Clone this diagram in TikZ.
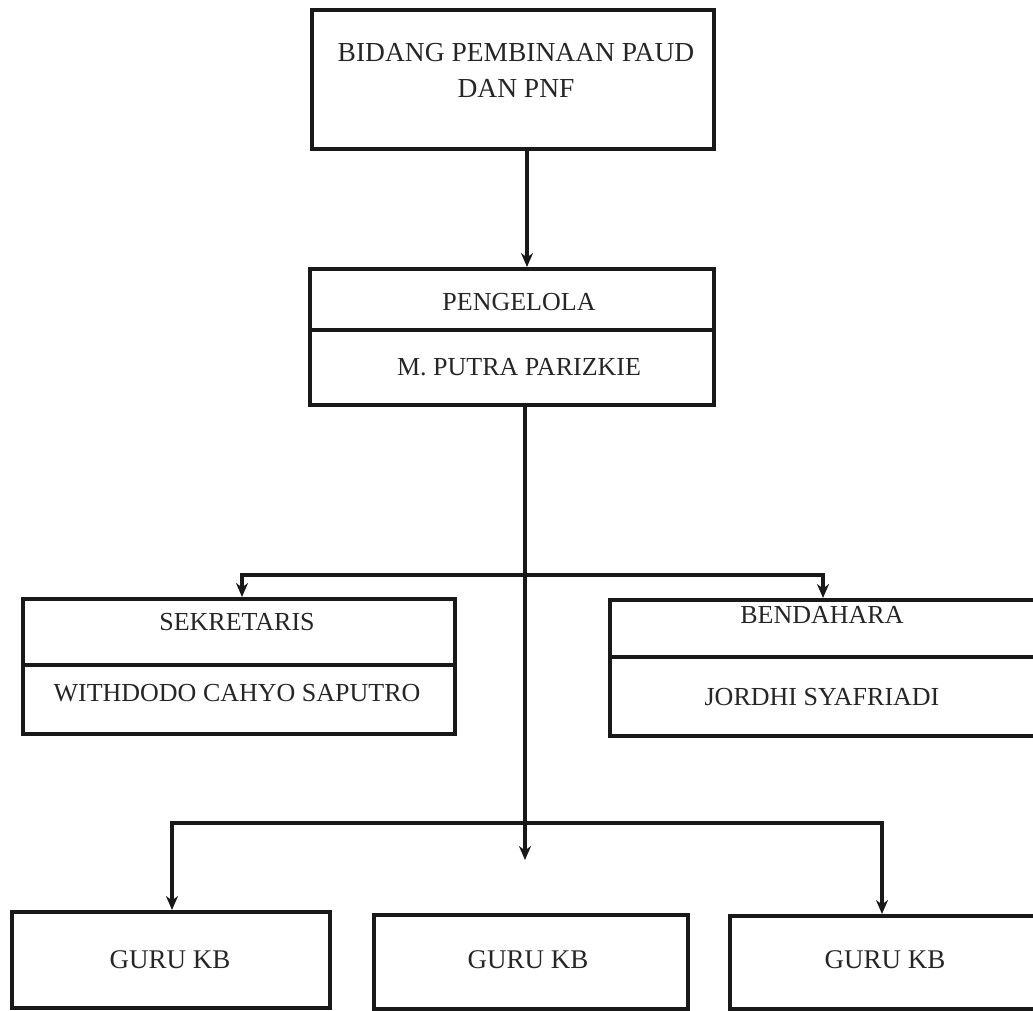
\documentclass[tikz,border=0pt]{standalone}
\usepackage{fontspec}
\setmainfont{Liberation Serif}
\usetikzlibrary{arrows.meta}
\begin{document}
\begin{tikzpicture}[x=1pt,y=-1pt,
  box/.style={draw=black!90,line width=3.8pt,rectangle,inner sep=0pt,anchor=north west},
  lbl/.style={font=\fontsize{26}{28}\selectfont,text=black!85,inner sep=0pt},
  con/.style={draw=black!90,line width=3.1pt},
  arr/.style={con,-{Stealth[length=14pt,width=12pt]}}]
\useasboundingbox (0,0) rectangle (1033,1010);
\clip (0,0) rectangle (1033,1010);
\fill[white] (0,0) rectangle (1033,1010);
% boxes
\node[box,minimum width=402pt,minimum height=139pt] (top) at (310,8) {};
\node[box,minimum width=404pt,minimum height=136pt] (pg) at (308,267) {};
\node[box,minimum width=432pt,minimum height=135pt] (sek) at (21,597) {};
\node[box,minimum width=440pt,minimum height=136pt] (ben) at (608,598) {};
\node[box,minimum width=318pt,minimum height=96pt] (g1) at (10,910) {};
\node[box,minimum width=314pt,minimum height=94pt] (g2) at (372,913) {};
\node[box,minimum width=320pt,minimum height=93pt] (g3) at (728,914) {};
% dividers
\draw[con] (pg.west |- 0,330) -- (pg.east |- 0,330);
\draw[con] (sek.west |- 0,665) -- (sek.east |- 0,665);
\draw[con] (ben.west |- 0,657) -- (ben.east |- 0,657);
% texts
\node[lbl,font=\fontsize{27.5}{30}\selectfont] (t1) at (516,53) {BIDANG PEMBINAAN PAUD};
\node[lbl,font=\fontsize{27.5}{30}\selectfont] (t2) at (516,88) {DAN PNF};
\node[lbl] (p1) at (519,302) {PENGELOLA};
\node[lbl] (p2) at (519,367) {M. PUTRA PARIZKIE};
\node[lbl] (s1) at (237,622) {SEKRETARIS};
\node[lbl] (s2) at (237,693) {WITHDODO CAHYO SAPUTRO};
\node[lbl] (b1) at (822,615) {BENDAHARA};
\node[lbl] (b2) at (822,697) {JORDHI SYAFRIADI};
\node[lbl,font=\fontsize{27}{29}\selectfont] (k1) at (170,960) {GURU KB};
\node[lbl,font=\fontsize{27}{29}\selectfont] (k2) at (528,960) {GURU KB};
\node[lbl,font=\fontsize{27}{29}\selectfont] (k3) at (885,960) {GURU KB};
% connector helpers
\coordinate (trunk) at (525,0);
\coordinate (j1) at (525,575);
\coordinate (j2) at (525,823);
\coordinate (mid) at (525,860);
% connectors
\draw[arr] (top.south -| 527,0) -- (pg.north -| 527,0);
\draw[arr] (pg.south -| trunk) -- (mid);
\draw[con,line cap=rect] (242,575) -- (823,575);
\draw[arr] (j1 -| 242,0) -- (sek.north -| 242,0);
\draw[arr] (j1 -| 823,0) -- (ben.north -| 823,0);
\draw[con,line cap=rect] (172,823) -- (882,823);
\draw[arr] (j2 -| 172,0) -- (g1.north -| 172,0);
\draw[arr] (j2 -| 882,0) -- (g3.north -| 882,0);
\end{tikzpicture}
\end{document}
